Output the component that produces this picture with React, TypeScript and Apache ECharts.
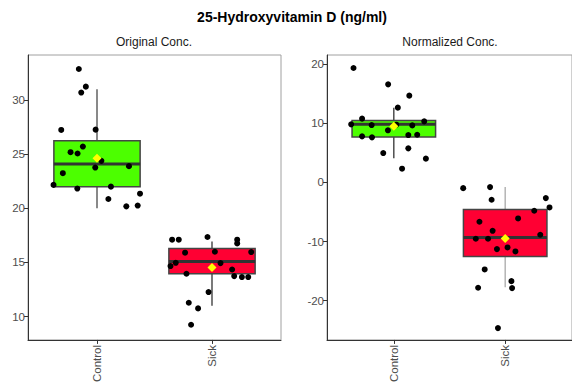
import React, { useEffect, useRef } from "react";
import * as echarts from "echarts";

const categories = ["Control", "Sick"];

// Original concentration: jittered points (x position in category units, value)
const origControlX = [0.842, 0.903, 0.863, 0.689, 0.988, 0.877, 0.770, 0.831, 1.038, 0.985, 1.278, 0.703, 0.622, 0.829, 1.121, 1.374, 1.099, 1.255, 1.354];
const origControlY = [32.86, 31.23, 30.68, 27.23, 27.26, 25.7, 25.18, 25.06, 24.38, 23.76, 23.89, 23.24, 22.16, 21.82, 22.0, 21.35, 20.86, 20.18, 20.25];
const origSickX = [1.653, 1.711, 1.961, 2.219, 2.219, 1.766, 2.025, 2.341, 1.685, 1.639, 2.074, 2.175, 1.778, 2.193, 2.260, 2.315, 1.970, 1.798, 1.879, 1.818];
const origSickY = [17.1, 17.1, 17.35, 17.1, 16.76, 15.9, 15.99, 15.96, 14.97, 14.67, 14.94, 14.35, 13.96, 13.74, 13.65, 13.65, 12.27, 11.28, 10.76, 9.25];

// Normalized concentration
const normControlX = [0.638, 0.949, 1.139, 1.036, 0.715, 0.617, 0.801, 1.023, 1.166, 1.273, 0.947, 0.715, 0.804, 1.130, 1.210, 0.905, 1.130, 1.288, 1.074];
const normControlY = [19.37, 16.6, 14.69, 12.66, 10.8, 9.83, 9.71, 9.78, 9.66, 10.34, 8.82, 7.8, 7.63, 8.02, 8.07, 4.97, 5.77, 4.03, 2.33];
const normSickX = [1.623, 1.864, 1.878, 2.365, 2.398, 2.261, 1.769, 2.116, 1.887, 1.736, 1.846, 2.315, 1.926, 2.021, 2.092, 1.816, 1.757, 2.056, 2.062, 1.935];
const normSickY = [-0.96, -0.79, -2.93, -2.65, -4.23, -4.79, -6.65, -6.09, -8.18, -9.53, -9.53, -8.85, -11.28, -11.0, -11.68, -14.72, -17.82, -16.7, -17.88, -24.65];

// Box stats: [whiskerLow, q1, median, q3, whiskerHigh]
const origBoxes = [
  [20.0, 22.0, 24.08, 26.23, 30.99],
  [11.0, 13.96, 15.1, 16.29, 16.94],
];
const origMeans = [24.63, 14.54];
const normBoxes = [
  [4.08, 7.68, 9.83, 10.5, 12.66],
  [-17.73, -12.54, -9.32, -4.59, -0.77],
];
const normMeans = [9.5, -9.49];

const origTicks = [10, 15, 20, 25, 30];
const normTicks = [-20, -10, 0, 10, 20];

const boxFill = ["#4cff00", "#ff0033"];
const FONT = "Liberation Sans, Arial, sans-serif";

function zip(xs: number[], ys: number[]) {
  return xs.map((x, i) => [x, ys[i]]);
}

function boxRender(whiskerColors: string[]) {
  return (params: any, api: any) => {
    const x = api.value(0);
    const low = api.coord([x, api.value(1)]);
    const q1 = api.coord([x, api.value(2)]);
    const med = api.coord([x, api.value(3)]);
    const q3 = api.coord([x, api.value(4)]);
    const high = api.coord([x, api.value(5)]);
    const left = api.coord([x - 0.375, api.value(2)])[0];
    const right = api.coord([x + 0.375, api.value(2)])[0];
    const i = params.dataIndex;
    return {
      type: "group",
      children: [
        {
          type: "line",
          shape: { x1: low[0], y1: low[1], x2: high[0], y2: high[1] },
          style: { stroke: whiskerColors[i], lineWidth: 1.3 },
        },
        {
          type: "rect",
          shape: { x: left, y: q3[1], width: right - left, height: q1[1] - q3[1] },
          style: { fill: boxFill[i], stroke: "#454545", lineWidth: 1.5 },
        },
        {
          type: "line",
          shape: { x1: left, y1: med[1], x2: right, y2: med[1] },
          style: { stroke: "#333333", lineWidth: 3 },
        },
      ],
    };
  };
}

function xAxisCfg(gridIndex: number) {
  return {
    gridIndex,
    type: "value",
    min: 0.4,
    max: 2.6,
    splitLine: { show: false },
    axisLine: { show: true, onZero: false, lineStyle: { color: "#333", width: 1 } },
    axisTick: { show: true, customValues: [1, 2], length: 4, lineStyle: { color: "#333" } },
    axisLabel: {
      customValues: [1, 2],
      formatter: (v: number) => categories[Math.round(v) - 1] || "",
      rotate: 90,
      color: "#4d4d4d",
      fontSize: 11.5,
      margin: 5,
      fontFamily: FONT,
    },
  };
}

function yAxisCfg(gridIndex: number, min: number, max: number, ticks: number[]) {
  return {
    gridIndex,
    type: "value",
    min,
    max,
    splitLine: { show: false },
    axisLine: { show: true, onZero: false, lineStyle: { color: "#333", width: 1 } },
    axisTick: { show: true, customValues: ticks, length: 4, lineStyle: { color: "#333" } },
    axisLabel: {
      customValues: ticks,
      color: "#4d4d4d",
      fontSize: 11.5,
      margin: 3,
      fontFamily: FONT,
    },
  };
}

export default function App() {
  const ref = useRef<HTMLDivElement>(null);
  useEffect(() => {
    document.body.style.margin = "0";
    const chart = echarts.init(ref.current!, undefined, { renderer: "svg" });
    const pointStyle = { color: "#000", opacity: 1 };
    chart.setOption({
      animation: false,
      backgroundColor: "#fff",
      grid: [
        { left: 28, top: 55, width: 253, height: 285, show: true, borderColor: "#a0a0a0", borderWidth: 1 },
        { left: 327, top: 55, width: 247, height: 285, show: true, borderColor: "#a0a0a0", borderWidth: 1 },
      ],
      xAxis: [xAxisCfg(0), xAxisCfg(1)],
      yAxis: [
        yAxisCfg(0, 7.85, 34.15, origTicks),
        yAxisCfg(1, -26.65, 21.57, normTicks),
      ],
      graphic: [
        {
          type: "text",
          x: 292,
          y: 17,
          style: {
            text: "25-Hydroxyvitamin D (ng/ml)",
            font: `bold 14px ${FONT}`,
            fill: "#000",
            align: "center",
            verticalAlign: "middle",
          },
        },
        {
          type: "text",
          x: 154,
          y: 42,
          style: {
            text: "Original Conc.",
            font: `12px ${FONT}`,
            fill: "#1a1a1a",
            align: "center",
            verticalAlign: "middle",
          },
        },
        {
          type: "text",
          x: 450,
          y: 42,
          style: {
            text: "Normalized Conc.",
            font: `12px ${FONT}`,
            fill: "#1a1a1a",
            align: "center",
            verticalAlign: "middle",
          },
        },
      ],
      series: [
        {
          type: "custom",
          xAxisIndex: 0,
          yAxisIndex: 0,
          renderItem: boxRender(["#4a4a4a", "#333333"]),
          encode: { x: 0, y: [1, 2, 3, 4, 5] },
          data: origBoxes.map((b, i) => [i + 1, ...b]),
          z: 1,
        },
        {
          type: "custom",
          xAxisIndex: 1,
          yAxisIndex: 1,
          renderItem: boxRender(["#333333", "#a8a8a8"]),
          encode: { x: 0, y: [1, 2, 3, 4, 5] },
          data: normBoxes.map((b, i) => [i + 1, ...b]),
          z: 1,
        },
        {
          type: "scatter",
          xAxisIndex: 0,
          yAxisIndex: 0,
          symbolSize: 6,
          itemStyle: pointStyle,
          data: [...zip(origControlX, origControlY), ...zip(origSickX, origSickY)],
          z: 3,
        },
        {
          type: "scatter",
          xAxisIndex: 1,
          yAxisIndex: 1,
          symbolSize: 6,
          itemStyle: pointStyle,
          data: [...zip(normControlX, normControlY), ...zip(normSickX, normSickY)],
          z: 3,
        },
        {
          type: "scatter",
          xAxisIndex: 0,
          yAxisIndex: 0,
          symbol: "diamond",
          symbolSize: 9,
          itemStyle: { color: "#ffff00", opacity: 1 },
          data: origMeans.map((m, i) => [i + 1, m]),
          z: 4,
        },
        {
          type: "scatter",
          xAxisIndex: 1,
          yAxisIndex: 1,
          symbol: "diamond",
          symbolSize: 9,
          itemStyle: { color: "#ffff00", opacity: 1 },
          data: normMeans.map((m, i) => [i + 1, m]),
          z: 4,
        },
      ],
    });
    return () => chart.dispose();
  }, []);
  return <div ref={ref} style={{ width: 572, height: 385 }} />;
}
